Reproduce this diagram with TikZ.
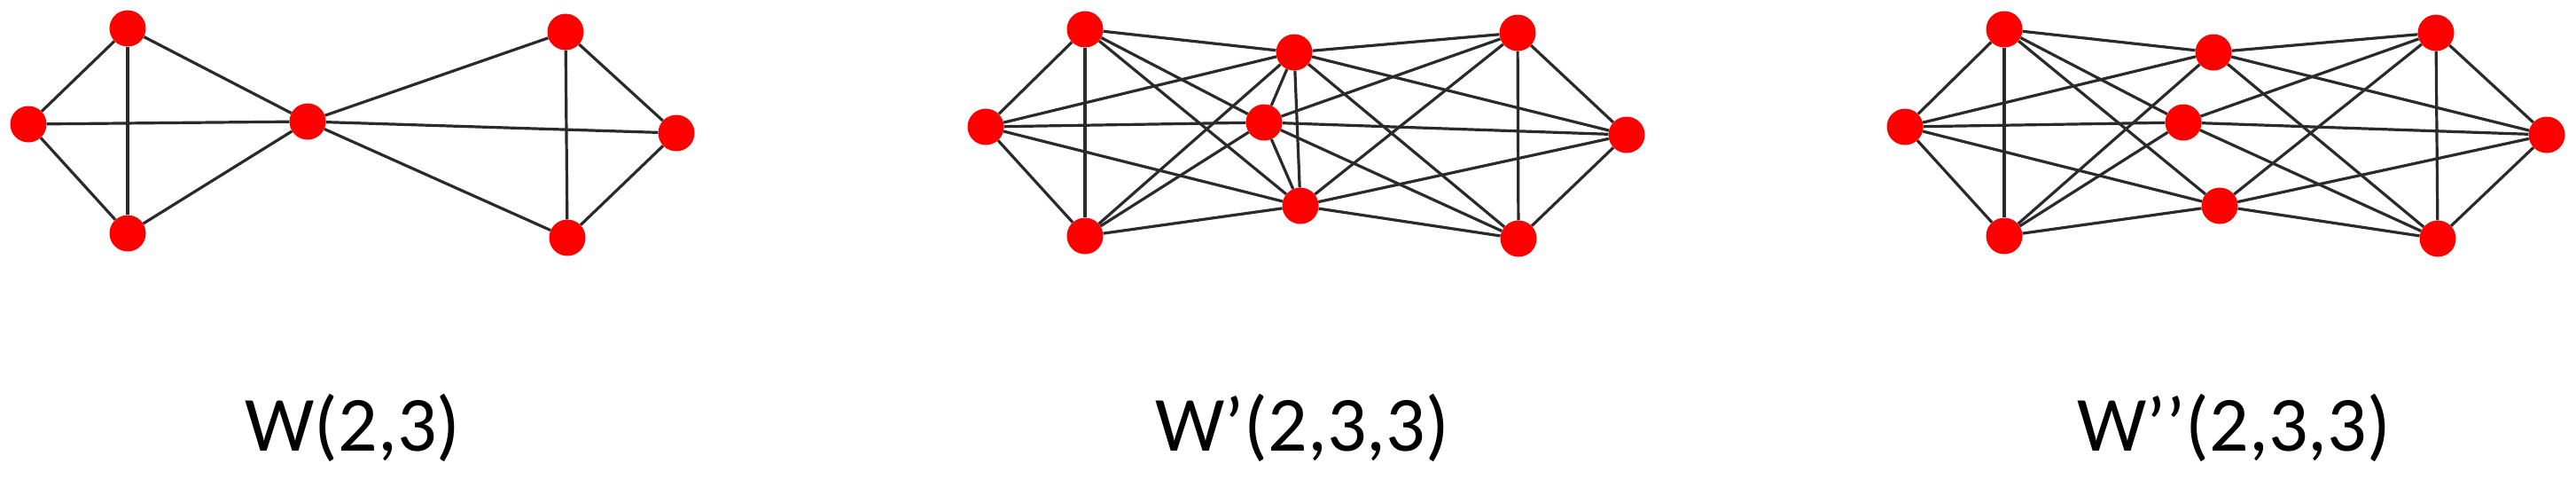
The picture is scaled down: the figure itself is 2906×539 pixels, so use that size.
\documentclass[tikz,border=0pt]{standalone}
\usepackage{fontspec}
\setmainfont{Carlito}
\usetikzlibrary{backgrounds}
\definecolor{edgecol}{HTML}{2A2A2A}
\tikzset{
  vtx/.style={circle, fill=red, draw=none, minimum size=41pt, inner sep=0pt},
  edg/.style={draw=edgecol, line width=3.2pt},
  lbl/.style={anchor=base, font=\fontsize{88}{100}\selectfont, inner sep=0pt}
}
\begin{document}
\begin{tikzpicture}[x=1pt, y=-1pt]
\useasboundingbox (0,0) rectangle (2906,539);
% ---------- W(2,3)
\node[vtx] (a1) at (144,32) {};
\node[vtx] (a2) at (32,140) {};
\node[vtx] (a3) at (144,263) {};
\node[vtx] (c)  at (347,137) {};
\node[vtx] (b1) at (638,36) {};
\node[vtx] (b2) at (763,150) {};
\node[vtx] (b3) at (640,268) {};
% ---------- W'(2,3,3)
\node[vtx] (Bp1) at (1224,33) {};
\node[vtx] (Bp2) at (1112,143) {};
\node[vtx] (Bp3) at (1224,266) {};
\node[vtx] (Bm1) at (1460,59) {};
\node[vtx] (Bm2) at (1426,138) {};
\node[vtx] (Bm3) at (1467,232) {};
\node[vtx] (Bq1) at (1712,37) {};
\node[vtx] (Bq2) at (1835,152) {};
\node[vtx] (Bq3) at (1713,269) {};
% ---------- W''(2,3,3)
\node[vtx] (Cp1) at (2261,33) {};
\node[vtx] (Cp2) at (2149,143) {};
\node[vtx] (Cp3) at (2261,266) {};
\node[vtx] (Cm1) at (2497,59) {};
\node[vtx] (Cm2) at (2463,138) {};
\node[vtx] (Cm3) at (2504,232) {};
\node[vtx] (Cq1) at (2748,37) {};
\node[vtx] (Cq2) at (2873,152) {};
\node[vtx] (Cq3) at (2750,269) {};
\begin{scope}[on background layer]
  % W(2,3)
  \foreach \u/\v in {a1/a2,a2/a3,a1/a3,a1/c,a2/c,a3/c,b1/b2,b2/b3,b1/b3,b1/c,b2/c,b3/c}
    \draw[edg] (\u) -- (\v);
  % W' and W''
  \foreach \g in {B,C} {
    \foreach \u/\v in {p1/p2,p2/p3,p1/p3,q1/q2,q2/q3,q1/q3}
      \draw[edg] (\g\u) -- (\g\v);
    \foreach \m in {m1,m2,m3}
      \foreach \o in {p1,p2,p3,q1,q2,q3}
        \draw[edg] (\g\m) -- (\g\o);
  }
  \foreach \u/\v in {m1/m2,m2/m3,m1/m3}
    \draw[edg] (B\u) -- (B\v);
\end{scope}
% ---------- labels
\node[lbl] (L1) at (398,508) {W(2,3)};
\node[lbl] (L2) at (1469,508) {W’(2,3,3)};
\node[lbl] (L3) at (2520,508) {W’{}’(2,3,3)};
\end{tikzpicture}
\end{document}
